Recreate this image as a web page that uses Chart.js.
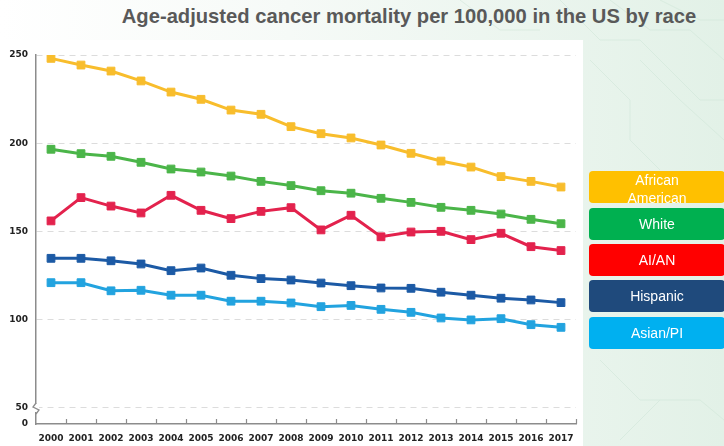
<!DOCTYPE html>
<html>
<head>
<meta charset="utf-8">
<script src="https://cdn.jsdelivr.net/npm/chart.js@4.4.0/dist/chart.umd.min.js"></script>
<style>
  html, body { margin: 0; padding: 0; }
  body {
    width: 724px; height: 446px; overflow: hidden; position: relative;
    background: linear-gradient(to right, #ffffff 0%, #f6faf7 40%, #e2f1e7 100%);
    font-family: "Liberation Sans", Arial, sans-serif;
  }
  #deco { position: absolute; left: 0; top: 0; }
  #panel { position: absolute; left: 0; top: 40px; width: 583px; height: 406px; background: #ffffff; }
  #title {
    position: absolute; left: 0; top: 5px; width: 818px; text-align: center;
    font-weight: bold; font-size: 20.2px; color: #595959; white-space: nowrap;
  }
  #wrap { position: absolute; left: 0; top: 40px; width: 590px; height: 406px; }
  .key {
    position: absolute; left: 589px; width: 136px; height: 32px; border-radius: 4px;
    color: #ffffff; font-size: 14px; line-height: 18px; text-align: center;
    display: flex; align-items: center; justify-content: center; overflow: hidden;
    box-sizing: border-box;
  }
  .key.two { padding-top: 3px; }
</style>
</head>
<body>
<svg id="deco" width="724" height="446" viewBox="0 0 724 446">
  <g fill="none" stroke="#cfe6d8" stroke-width="1" opacity="0.55">
    <polyline points="560,0 600,40 640,40 700,100 724,100"/>
    <polyline points="610,0 650,30 690,30 724,60"/>
    <polyline points="660,0 700,20 724,20"/>
    <polyline points="590,60 630,100 630,140 660,170"/>
    <polyline points="640,60 680,100 724,140"/>
    <polyline points="600,360 640,400 700,400 724,420"/>
    <polyline points="620,440 660,400"/>
    <polyline points="460,0 500,30 540,30"/>
  </g>
</svg>
<div id="panel"></div>
<div id="title">Age-adjusted cancer mortality per 100,000 in the US by race</div>
<div id="wrap"><canvas id="c" width="590" height="406"></canvas></div>
<div id="legend"></div>
<script>
// Years on the horizontal axis
const years = ['2000','2001','2002','2003','2004','2005','2006','2007','2008','2009',
               '2010','2011','2012','2013','2014','2015','2016','2017'];

// Age-adjusted deaths per 100,000, by group
const africanAmerican = [248.1, 244.3, 240.9, 235.3, 229.0, 224.9, 218.8, 216.4, 209.4,
                         205.4, 203.0, 199.0, 194.3, 189.9, 186.5, 181.1, 178.4, 175.2];
const white           = [196.6, 194.1, 192.6, 189.2, 185.4, 183.7, 181.4, 178.4, 176.0,
                         173.1, 171.7, 168.8, 166.5, 163.7, 162.0, 159.9, 156.9, 154.4];
const aian            = [156.0, 169.2, 164.4, 160.5, 170.5, 162.0, 157.3, 161.4, 163.5,
                         150.9, 159.2, 147.0, 149.7, 150.1, 145.4, 149.0, 141.4, 139.2];
const hispanic        = [134.8, 134.8, 133.4, 131.6, 127.8, 129.3, 125.2, 123.3, 122.5,
                         120.8, 119.3, 118.0, 117.8, 115.6, 113.9, 112.2, 111.2, 109.7];
const asianPI         = [121.0, 121.0, 116.4, 116.7, 113.9, 113.9, 110.5, 110.5, 109.5,
                         107.4, 108.1, 105.9, 104.2, 101.0,  99.9, 100.6,  97.2,  95.7];

// Legend / series names
const seriesNames = ['African American', 'White', 'AI/AN', 'Hispanic', 'Asian/PI'];

// Value-axis ticks; the axis is broken below 50 and its foot is labelled 0
const yTicks = [50, 100, 150, 200, 250];
const yFootLabel = '0';
const yFoot = 40.93;   // where the broken axis bottoms out
const yTop = 250;

const lineColors = ['#F8BD2C', '#4BB549', '#E3224D', '#1C5AA5', '#22A3DF'];
const keyColors  = ['#FFC000', '#00B050', '#FF0000', '#1F4A7C', '#00B0F0'];
const seriesData = [africanAmerican, white, aian, hispanic, asianPI];

// Coloured name boxes at the right
const legend = document.getElementById('legend');
const keyTops = [171, 207.5, 244, 280, 316.5];
seriesNames.forEach((name, i) => {
  const d = document.createElement('div');
  d.className = 'key';
  d.style.top = keyTops[i] + 'px';
  d.style.background = keyColors[i];
  if (name === 'African American') {
    d.classList.add('two');
    d.innerHTML = 'African<br>American';
  } else {
    d.textContent = name;
  }
  legend.appendChild(d);
});

const axisGray = '#8c8c8c';
const tickFont = { family: '"DejaVu Sans", sans-serif', weight: 'bold', size: 9 };

// Small upward ticks between years, and the break mark on the value axis
const axisExtras = {
  id: 'axisExtras',
  afterDraw(chart) {
    const { ctx, chartArea } = chart;
    const xs = chart.scales.x, ys = chart.scales.y;
    const half = (xs.getPixelForValue(1) - xs.getPixelForValue(0)) / 2;
    ctx.save();
    ctx.strokeStyle = axisGray;
    ctx.lineWidth = 1.2;
    ctx.beginPath();
    for (let i = 0; i < years.length; i++) {
      const x = Math.round(xs.getPixelForValue(i) + half) + 0.5;
      ctx.moveTo(x, chartArea.bottom);
      ctx.lineTo(x, chartArea.bottom - 5);
    }
    ctx.stroke();

    const x0 = chartArea.left;
    const y50 = ys.getPixelForValue(50);
    ctx.fillStyle = '#ffffff';
    ctx.fillRect(x0 - 3, y50 - 4, 6, 8);
    ctx.lineWidth = 1.3;
    ctx.beginPath();
    ctx.moveTo(x0, y50 - 5);
    ctx.lineTo(x0 - 3, y50 - 1);
    ctx.lineTo(x0 + 3, y50 + 2);
    ctx.lineTo(x0, y50 + 6);
    ctx.stroke();
    ctx.restore();
  }
};

new Chart(document.getElementById('c'), {
  type: 'line',
  data: {
    labels: years,
    datasets: seriesData.map((d, i) => ({
      label: seriesNames[i],
      data: d,
      borderColor: lineColors[i],
      backgroundColor: lineColors[i],
      borderWidth: 3,
      pointStyle: 'rect',
      pointRadius: 5.5,
      pointBorderWidth: 1,
      pointBackgroundColor: lineColors[i],
      pointBorderColor: lineColors[i],
      tension: 0,
      fill: false
    }))
  },
  options: {
    responsive: false,
    devicePixelRatio: 1,
    animation: false,
    layout: { padding: { top: 15, right: 14, left: 0, bottom: 0 } },
    plugins: { legend: { display: false }, tooltip: { enabled: false }, title: { display: false } },
    scales: {
      x: {
        type: 'category',
        offset: true,
        grid: { display: false, drawTicks: false },
        border: { display: true, color: axisGray, width: 1.5 },
        ticks: { color: '#222222', font: tickFont, padding: 9, maxRotation: 0, autoSkip: false },
        afterFit(s) { s.height = 22; }
      },
      y: {
        type: 'linear',
        min: yFoot,
        max: yTop,
        afterBuildTicks(s) {
          s.ticks = [yFoot, ...yTicks].map(v => ({ value: v }));
        },
        grid: {
          drawTicks: false,
          lineWidth: 1,
          color: c => (c.tick && c.tick.value < yTicks[0]) ? 'rgba(0,0,0,0)' : '#dcdcdc'
        },
        border: { display: true, color: axisGray, width: 1.5, dash: [6, 5] },
        ticks: {
          color: '#222222', font: tickFont, padding: 8,
          callback: v => (v < yTicks[0] ? yFootLabel : String(v))
        },
        afterFit(s) { s.width = 36; }
      }
    }
  },
  plugins: [axisExtras]
});
</script>
</body>
</html>
